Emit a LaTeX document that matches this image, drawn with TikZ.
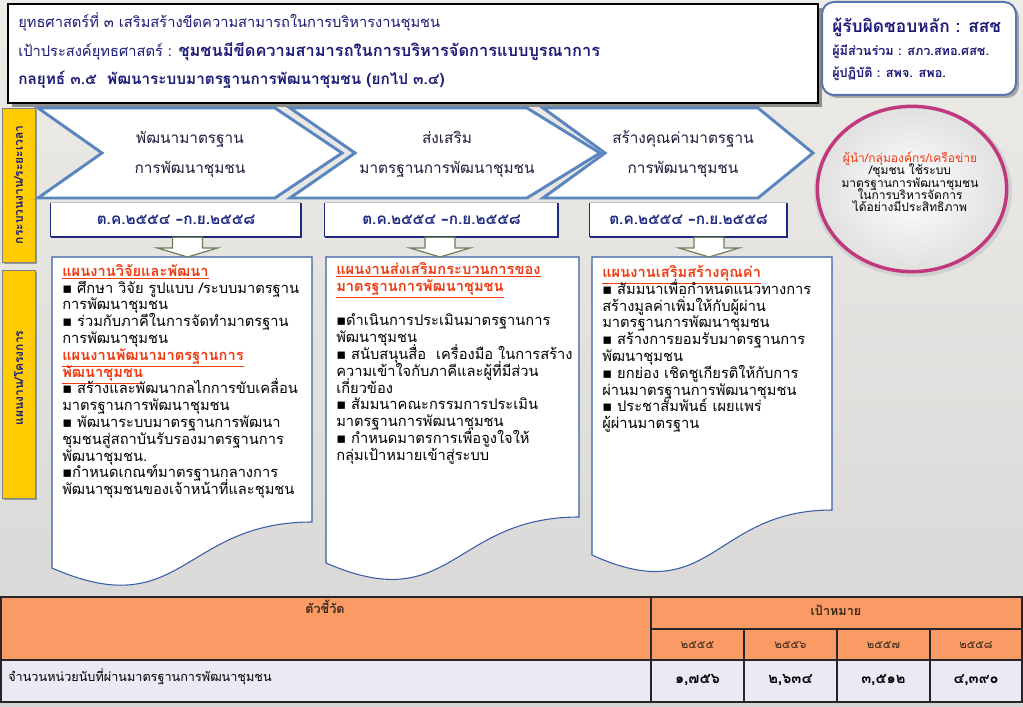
\documentclass[tikz,border=0pt]{standalone}
\usepackage{fontspec}
\setmainfont[Script=Thai]{Loma}
\newfontfamily\symfont{DejaVu Sans}
\usetikzlibrary{calc,shapes.geometric}
\definecolor{navy}{HTML}{1C1C78}
\definecolor{bgtop}{HTML}{EEECE7}
\definecolor{bgbot}{HTML}{D6D6D6}
\definecolor{chevblue}{HTML}{5A86C0}
\definecolor{chevtxt}{HTML}{1E1E3C}
\definecolor{titlered}{HTML}{EE3B12}
\definecolor{docblue}{HTML}{3A5DA8}
\definecolor{datenavy}{HTML}{1F2A80}
\definecolor{arrowgreen}{HTML}{6B7F5A}
\definecolor{magentaring}{HTML}{C2387C}
\definecolor{yellowlab}{HTML}{FFCC00}
\definecolor{orangehead}{HTML}{FA9A64}
\definecolor{lavrow}{HTML}{E9EAF3}
\definecolor{boxblue}{HTML}{5A74AE}
\definecolor{tabtxt}{HTML}{3A2A1A}
\newcommand\bul{{\symfont ▪}}
\newcommand\fixlines{\lineskiplimit=-\maxdimen\lineskip=0pt}
\newcommand\blockarrow[2]{%
  \draw[blockarr] ($(#1)+(-15,0)$) -- ($(#2)+(-15,-9)$) -- ($(#2)+(-30,-9)$) -- (#2)
    -- ($(#2)+(30,-9)$) -- ($(#2)+(15,-9)$) -- ($(#1)+(15,0)$) -- cycle;}
\begin{document}
\begin{tikzpicture}[x=0.75pt,y=-0.75pt,
  hdrtext/.style={anchor=base west, text=navy, inner sep=0pt, font=\fontsize{11}{13}\selectfont},
  chev/.style={draw=chevblue, line width=2.2pt, fill=white, line join=miter},
  chevtext/.style={align=center, text=chevtxt, inner sep=0pt, font=\fontsize{11.5}{22.5}\selectfont\fixlines},
  datebox/.style={fill=white, minimum height=25.5pt, inner sep=0pt, text=datenavy, font=\bfseries\fontsize{11.5}{14}\selectfont},
  docshape/.style={draw=docblue, line width=0.8pt, fill=white},
  doctext/.style={anchor=north west, align=left, inner sep=0pt, font=\fontsize{11}{12.6}\selectfont\fixlines},
  blockarr/.style={draw=arrowgreen, line width=0.9pt, fill=white, line join=miter},
  ylabel/.style={rotate=90, text=navy, inner sep=0pt, font=\bfseries\fontsize{9}{11}\selectfont},
  tabline/.style={draw=black!85, line width=1.1pt},
  tabhead/.style={text=tabtxt, inner sep=0pt, font=\bfseries\fontsize{9.5}{11}\selectfont},
  tabyear/.style={text=tabtxt, inner sep=0pt, font=\fontsize{8.5}{10}\selectfont},
  tabval/.style={text=black, inner sep=0pt, font=\bfseries\fontsize{11}{12}\selectfont}
]
\useasboundingbox (0,0) rectangle (1023,706);
\shade[top color=bgtop, bottom color=bgbot] (0,0) rectangle (1023,706);

% ---------- header box ----------
\fill[black!45] (12,8) rectangle (822,107);
\draw[fill=white, draw=black, line width=2pt] (8,4) rectangle (818,103);
\node[hdrtext] (h1) at (18,28) {ยุทธศาสตร์ที่ ๓ เสริมสร้างขีดความสามารถในการบริหารงานชุมชน};
\node[hdrtext] (h2) at (18,57) {เป้าประสงค์ยุทธศาสตร์ : {\bfseries\fontsize{12.3}{14}\selectfont ชุมชนมีขีดความสามารถในการบริหารจัดการแบบบูรณาการ}};
\node[hdrtext, font=\bfseries\fontsize{11.5}{13}\selectfont] (h3) at (18,85) {กลยุทธ์ ๓.๕\ \ พัฒนาระบบมาตรฐานการพัฒนาชุมชน (ยกไป ๓.๔)};

% ---------- responsible box ----------
\fill[black!35, rounded corners=9pt] (825,5) rectangle (1019,98);
\draw[fill=white, draw=boxblue, line width=1.5pt, rounded corners=9pt] (822,2) rectangle (1016,95);
\node[hdrtext, font=\bfseries\fontsize{13}{15}\selectfont] (r1) at (832,33) {ผู้รับผิดชอบหลัก : สสช};
\node[hdrtext, font=\bfseries\fontsize{9.5}{11}\selectfont] (r2) at (832,56) {ผู้มีส่วนร่วม : สภว.สทอ.ศสช.};
\node[hdrtext, font=\bfseries\fontsize{9.5}{11}\selectfont] (r3) at (832,78) {ผู้ปฏิบัติ : สพจ. สพอ.};

% ---------- yellow side labels ----------
\fill[black!40] (4,110) rectangle (37,264);
\draw[fill=yellowlab, draw=black!50, line width=0.6pt] (2,108) rectangle (35,262);
\node[ylabel] (lab1) at (18.5,185) {กระบวนงาน/ระยะเวลา};
\fill[black!40] (4,272) rectangle (37,500);
\draw[fill=yellowlab, draw=black!50, line width=0.6pt] (2,270) rectangle (35,498);
\node[ylabel] (lab2) at (18.5,378) {แผนงาน/โครงการ};

% ---------- chevrons ----------
\draw[chev] (38,108) -- (275,108) -- (342,153) -- (275,198) -- (38,198) -- (102,153) -- cycle;
\draw[chev] (290,108) -- (527,108) -- (600,153) -- (527,198) -- (290,198) -- (355,153) -- cycle;
\draw[chev] (543,108) -- (758,108) -- (813,153) -- (758,198) -- (543,198) -- (605,153) -- cycle;
\node[chevtext] (c1) at (190,154) {พัฒนามาตรฐาน\\การพัฒนาชุมชน};
\node[chevtext] (c2) at (447,154) {ส่งเสริม\\มาตรฐานการพัฒนาชุมชน};
\node[chevtext] (c3) at (683,154) {สร้างคุณค่ามาตรฐาน\\การพัฒนาชุมชน};

% ---------- goal circle ----------
\fill[black!18] (913,191) ellipse (99 and 86);
\node[ellipse, draw=magentaring, line width=2.6pt, inner color=white, outer color=black!12,
      minimum width=142pt, minimum height=124pt] (goal) at (912,189) {};
\node[align=center, inner sep=0pt, font=\fontsize{9}{9.2}\selectfont\fixlines] (goaltext) at (910,182)
  {\textcolor{titlered}{ผู้นำ/กลุ่มองค์กร/เครือข่าย}\\/ชุมชน ใช้ระบบ\\มาตรฐานการพัฒนาชุมชน\\ในการบริหารจัดการ\\ได้อย่างมีประสิทธิภาพ};

% ---------- date boxes ----------
\node[datebox, minimum width=187.5pt] (d1) at (176,220) {ต.ค.๒๕๕๔ {\symfont –}ก.ย.๒๕๕๘};
\node[datebox, minimum width=174.75pt] (d2) at (441.5,220) {ต.ค.๒๕๕๔ {\symfont –}ก.ย.๒๕๕๘};
\node[datebox, minimum width=147.75pt] (d3) at (688.5,220) {ต.ค.๒๕๕๔ {\symfont –}ก.ย.๒๕๕๘};
\foreach \d in {d1,d2,d3}{
  \draw[black!25, line width=0.6pt] (\d.north west) -- (\d.north east);
  \draw[datenavy, line width=0.8pt] (\d.north west) -- (\d.south west);
  \draw[datenavy, line width=1.8pt] (\d.south west) -- (\d.south east) -- (\d.north east);
}

% ---------- document boxes ----------
\draw[docshape] (52,257) -- (312,257) -- (312,522) .. controls (182,522) and (182,625) .. (52,568) -- cycle;
\draw[docshape] (326,257) -- (579,257) -- (579,517) .. controls (452,517) and (452,618) .. (326,563) -- cycle;
\draw[docshape] (592,257) -- (832,257) -- (832,510) .. controls (712,510) and (712,610) .. (592,555) -- cycle;
\coordinate (doc1) at (187.5,257);
\coordinate (doc2) at (440,257);
\coordinate (doc3) at (709,257);

% ---------- block arrows ----------
\blockarrow{d1.south -| doc1}{doc1}
\blockarrow{d2.south -| doc2}{doc2}
\blockarrow{d3.south -| doc3}{doc3}

% ---------- document texts ----------
\node[doctext] (t1) at (62,264) {%
\textcolor{titlered}{\textbf{\underline{แผนงานวิจัยและพัฒนา}}}\\
\bul\ ศึกษา วิจัย รูปแบบ /ระบบมาตรฐาน\\
การพัฒนาชุมชน\\
\bul\ ร่วมกับภาคีในการจัดทำมาตรฐาน\\
การพัฒนาชุมชน\\
\textcolor{titlered}{\textbf{\underline{แผนงานพัฒนามาตรฐานการ}}}\\
\textcolor{titlered}{\textbf{\underline{พัฒนาชุมชน}}}\\
\bul\ สร้างและพัฒนากลไกการขับเคลื่อน\\
มาตรฐานการพัฒนาชุมชน\\
\bul\ พัฒนาระบบมาตรฐานการพัฒนา\\
ชุมชนสู่สถาบันรับรองมาตรฐานการ\\
พัฒนาชุมชน.\\
\bul กำหนดเกณฑ์มาตรฐานกลางการ\\
พัฒนาชุมชนของเจ้าหน้าที่และชุมชน};

\node[doctext] (t2) at (336,262) {%
\textcolor{titlered}{\textbf{\underline{แผนงานส่งเสริมกระบวนการของ}}}\\
\textcolor{titlered}{\textbf{\underline{มาตรฐานการพัฒนาชุมชน}}}\\[13.5pt]
\bul ดำเนินการประเมินมาตรฐานการ\\
พัฒนาชุมชน\\
\bul\ สนับสนุนสื่อ\ \ เครื่องมือ ในการสร้าง\\
ความเข้าใจกับภาคีและผู้ที่มีส่วน\\
เกี่ยวข้อง\\
\bul\ สัมมนาคณะกรรมการประเมิน\\
มาตรฐานการพัฒนาชุมชน\\
\bul\ กำหนดมาตรการเพื่อจูงใจให้\\
กลุ่มเป้าหมายเข้าสู่ระบบ};

\node[doctext] (t3) at (602,265) {%
\textcolor{titlered}{\textbf{\underline{แผนงานเสริมสร้างคุณค่า}}}\\
\bul\ สัมมนาเพื่อกำหนดแนวทางการ\\
สร้างมูลค่าเพิ่มให้กับผู้ผ่าน\\
มาตรฐานการพัฒนาชุมชน\\
\bul\ สร้างการยอมรับมาตรฐานการ\\
พัฒนาชุมชน\\
\bul\ ยกย่อง เชิดชูเกียรติให้กับการ\\
ผ่านมาตรฐานการพัฒนาชุมชน\\
\bul\ ประชาสัมพันธ์ เผยแพร่\\
ผู้ผ่านมาตรฐาน};

% ---------- table ----------
\fill[orangehead] (1,597) rectangle (1022,660);
\fill[lavrow] (1,660) rectangle (1022,702);
\draw[tabline] (1,597) rectangle (1022,702);
\draw[tabline] (1,660) -- (1022,660);
\draw[tabline] (651,629) -- (1022,629);
\draw[tabline] (651,597) -- (651,702);
\foreach \x in {744,837,930} \draw[tabline] (\x,629) -- (\x,702);
\node[tabhead] (th1) at (325,607) {ตัวชี้วัด};
\node[tabhead] (th2) at (836,610) {เป้าหมาย};
\node[tabyear] (y1) at (697.5,645) {๒๕๕๕};
\node[tabyear] (y2) at (790.5,645) {๒๕๕๖};
\node[tabyear] (y3) at (883.5,645) {๒๕๕๗};
\node[tabyear] (y4) at (976,645) {๒๕๕๘};
\node[anchor=west, inner sep=0pt, font=\fontsize{9.5}{11}\selectfont] (ind) at (8,677) {จำนวนหน่วยนับที่ผ่านมาตรฐานการพัฒนาชุมชน};
\node[tabval] (v1) at (697.5,680) {๑,๗๕๖};
\node[tabval] (v2) at (790.5,680) {๒,๖๓๔};
\node[tabval] (v3) at (883.5,680) {๓,๕๑๒};
\node[tabval] (v4) at (976,680) {๔,๓๙๐};
\end{tikzpicture}
\end{document}
